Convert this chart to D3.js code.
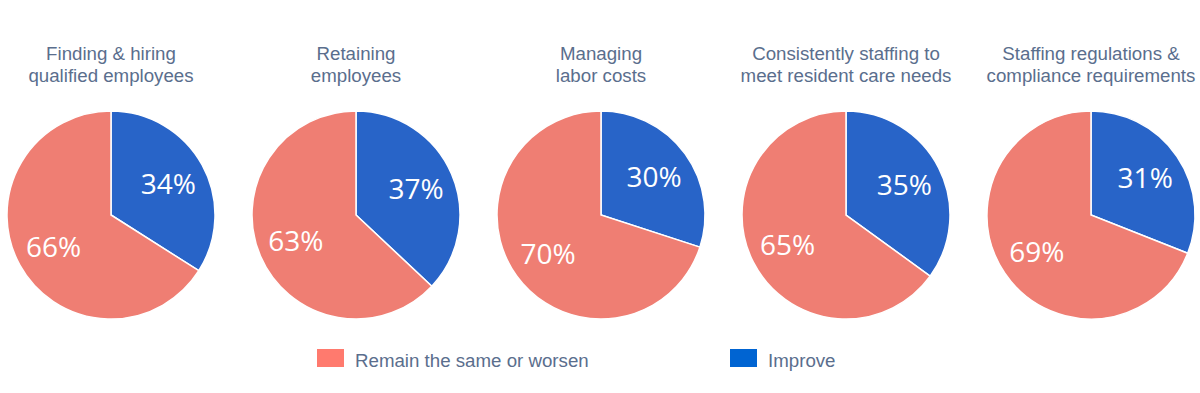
<!DOCTYPE html>
<html>
<head>
<script src="https://d3js.org/d3.v7.min.js" charset="utf-8"></script>
<style>
  body { margin: 0; background: #ffffff; }
</style>
</head>
<body>
<svg id="chart" width="1200" height="393"></svg>
<script>
const titles = [
  ["Finding & hiring", "qualified employees"],
  ["Retaining", "employees"],
  ["Managing", "labor costs"],
  ["Consistently staffing to", "meet resident care needs"],
  ["Staffing regulations &", "compliance requirements"]
];
const improve = [34, 37, 30, 35, 31];
const remain = [66, 63, 70, 65, 69];
const seriesNames = ["Improve", "Remain the same or worsen"];

const svg = d3.select("#chart");
const radius = 104;
const cy = 215;

const x = d3.scalePoint()
  .domain(d3.range(titles.length))
  .range([111, 1091]);

const color = d3.scaleOrdinal()
  .domain(seriesNames)
  .range(["#2864c8", "#ef7e73"]);
const legendColor = d3.scaleOrdinal()
  .domain(seriesNames)
  .range(["#0064d2", "#ff7a6e"]);

const pie = d3.pie().sort(null).value(d => d.value);
const arc = d3.arc().innerRadius(0).outerRadius(radius);
const labelArc = d3.arc().innerRadius(radius * 0.63).outerRadius(radius * 0.63);

titles.forEach(function (t, i) {
  const g = svg.append("g").attr("transform", `translate(${x(i)}, ${cy})`);
  const data = [
    {name: seriesNames[0], value: improve[i]},
    {name: seriesNames[1], value: remain[i]}
  ];
  const arcs = pie(data);

  g.selectAll("path")
    .data(arcs)
    .enter()
    .append("path")
    .attr("d", arc)
    .attr("fill", d => color(d.data.name))
    .attr("stroke", "#ffffff")
    .attr("stroke-width", 1.5);

  g.selectAll("text.pct")
    .data(arcs)
    .enter()
    .append("text")
    .attr("class", "pct")
    .attr("transform", d => `translate(${labelArc.centroid(d)})`)
    .attr("dy", "0.36em")
    .style("text-anchor", "middle")
    .style("font-family", "'Open Sans', sans-serif")
    .style("font-size", "28px")
    .style("fill", "#ffffff")
    .text(d => d.data.value + "%");

  // title
  svg.append("text")
    .attr("x", x(i))
    .attr("y", 60)
    .style("text-anchor", "middle")
    .style("font-family", "'Liberation Sans', Arial, sans-serif")
    .style("font-size", "18.7px")
    .style("fill", "#5a6e8d")
    .selectAll("tspan")
    .data(t)
    .enter()
    .append("tspan")
    .attr("x", x(i))
    .attr("dy", (d, j) => j == 0 ? 0 : 22)
    .text(d => d);
});

// legend
const legendItems = [
  {name: seriesNames[1], x: 317},
  {name: seriesNames[0], x: 730}
];
const lg = svg.selectAll("g.legend")
  .data(legendItems)
  .enter()
  .append("g")
  .attr("class", "legend")
  .attr("transform", d => `translate(${d.x}, 349)`);
lg.append("rect")
  .attr("width", 27)
  .attr("height", 18)
  .attr("fill", d => legendColor(d.name));
lg.append("text")
  .attr("x", 38)
  .attr("y", 17.5)
  .style("font-family", "'Liberation Sans', Arial, sans-serif")
  .style("font-size", "18.7px")
  .style("fill", "#5a6e8d")
  .text(d => d.name);
</script>
</body>
</html>
